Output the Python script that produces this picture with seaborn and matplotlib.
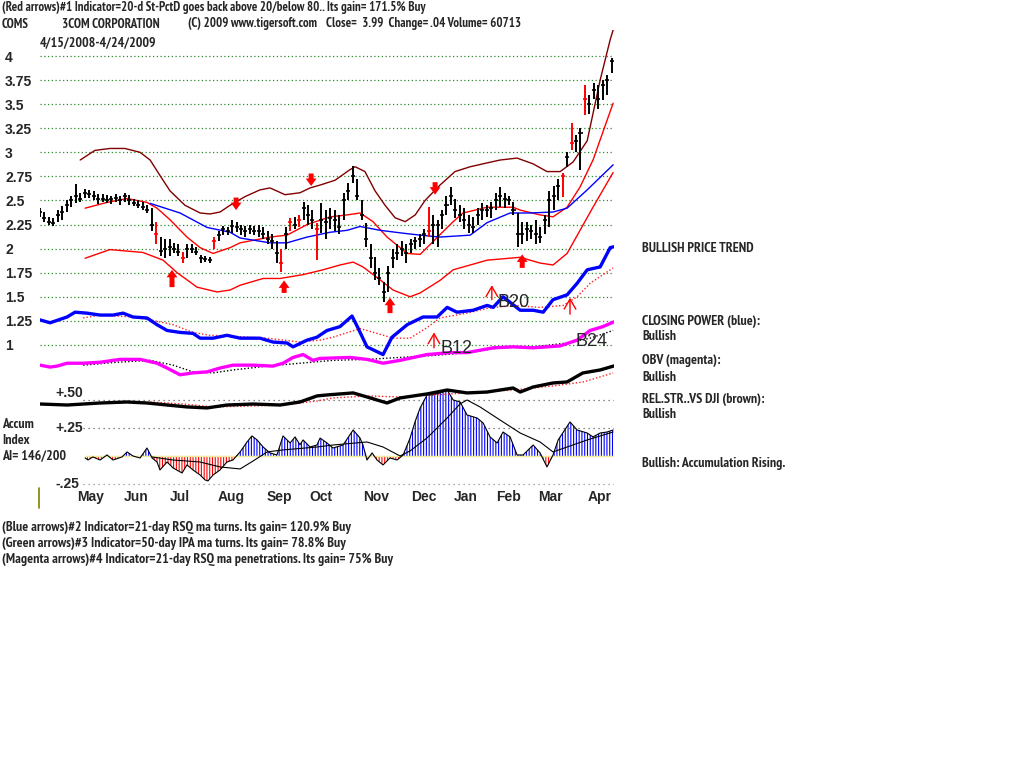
import os
import numpy as np
import matplotlib
matplotlib.use("Agg")
import matplotlib.pyplot as plt
from matplotlib.lines import Line2D
from matplotlib import font_manager as fm
import seaborn as sns

# ---------------- data ----------------
# price bars, one every two trading days (day index 0..256)
bar_low = [2.33,2.28,2.25,2.24,2.28,2.30,2.38,2.43,2.47,2.48,2.53,2.53,2.50,2.46,2.48,2.47,2.46,2.48,2.45,2.48,
           2.45,2.44,2.42,2.40,2.37,2.18,2.05,1.92,1.90,1.92,1.95,1.92,1.85,1.90,1.95,1.93,1.85,1.86,1.85,2.00,
           2.08,2.14,2.14,2.16,2.17,2.14,2.12,2.15,2.14,2.12,2.10,2.05,2.00,1.85,1.76,2.00,2.18,2.20,2.22,2.30,
           2.25,2.20,1.88,2.16,2.10,2.20,2.18,2.15,2.30,2.50,2.68,2.50,2.30,2.02,1.80,1.67,1.62,1.45,1.55,1.80,
           1.88,1.92,1.85,1.95,2.00,2.02,2.05,2.12,2.05,2.02,2.20,2.35,2.45,2.32,2.28,2.20,2.16,2.16,2.25,2.30,
           2.33,2.32,2.40,2.43,2.42,2.45,2.35,2.02,2.05,2.08,2.10,2.05,2.06,2.15,2.22,2.40,2.50,2.54,2.85,3.02,
           3.00,2.82,3.39,3.40,3.55,3.45,3.54,3.60,3.82]
bar_high = [2.42,2.38,2.33,2.32,2.40,2.44,2.50,2.55,2.67,2.58,2.62,2.61,2.60,2.57,2.57,2.56,2.55,2.57,2.55,2.58,
            2.56,2.52,2.50,2.48,2.45,2.42,2.28,2.12,2.10,2.10,2.06,2.05,1.97,2.05,2.05,2.02,1.93,1.92,1.91,2.12,
            2.18,2.24,2.22,2.30,2.28,2.25,2.23,2.25,2.24,2.25,2.22,2.18,2.15,2.08,2.00,2.22,2.32,2.33,2.35,2.48,
            2.45,2.40,2.27,2.47,2.40,2.42,2.40,2.35,2.58,2.68,2.86,2.72,2.50,2.27,2.05,1.91,1.80,1.65,1.82,2.00,
            2.05,2.08,2.05,2.10,2.12,2.15,2.20,2.43,2.35,2.30,2.40,2.55,2.64,2.52,2.45,2.42,2.35,2.33,2.42,2.47,
            2.45,2.48,2.58,2.64,2.58,2.55,2.48,2.37,2.28,2.28,2.25,2.30,2.22,2.35,2.60,2.65,2.72,2.79,3.00,3.30,
            3.18,3.25,3.70,3.60,3.72,3.70,3.75,3.80,3.98]
bar_close = [2.38,2.32,2.28,2.27,2.35,2.38,2.45,2.50,2.55,2.52,2.58,2.57,2.55,2.52,2.52,2.50,2.52,2.53,2.50,2.55,
             2.50,2.47,2.45,2.43,2.40,2.25,2.15,1.98,2.00,2.02,2.00,1.97,1.90,2.00,2.00,1.97,1.90,1.89,1.88,2.08,
             2.14,2.20,2.18,2.24,2.22,2.20,2.18,2.20,2.18,2.18,2.15,2.10,2.08,1.95,1.85,2.15,2.28,2.25,2.30,2.42,
             2.35,2.30,2.20,2.30,2.28,2.32,2.30,2.22,2.50,2.60,2.75,2.55,2.35,2.10,1.90,1.75,1.70,1.55,1.75,1.90,
             1.95,2.00,1.95,2.05,2.08,2.10,2.15,2.18,2.25,2.25,2.35,2.45,2.55,2.40,2.35,2.30,2.25,2.22,2.35,2.40,
             2.40,2.42,2.50,2.55,2.52,2.50,2.40,2.15,2.15,2.20,2.18,2.15,2.12,2.30,2.50,2.55,2.65,2.75,2.95,3.10,
             3.12,3.20,3.55,3.50,3.65,3.55,3.70,3.75,3.95]
red_bars = [26, 32, 39, 54, 56, 58, 62, 87, 117, 119, 122]

upper_day = [18,24.6,31.3,38,44.8,49.3,53.7,58.2,64.9,71.7,76.1,80.6,85.1,91.8,98.5,103,109.7,116.4,120.9,125.4,
             132.1,138.8,141.1,145.5,150,154.5,159,163.5,168,172.4,179.1,185.8,192.6,200.2,206,213.6,220.8,227,
             232.9,238.7,245,250.8,255.3,257]
upper_val = [2.92,3.02,3.04,3.04,3.00,2.92,2.76,2.60,2.45,2.37,2.36,2.38,2.45,2.54,2.61,2.63,2.56,2.58,2.63,2.66,
             2.71,2.82,2.85,2.80,2.60,2.45,2.32,2.28,2.35,2.50,2.66,2.80,2.85,2.89,2.92,2.94,2.88,2.80,
             2.80,2.90,3.12,3.75,4.17,4.30]

mid_day = [20.2,30,39,47.9,52.4,58.2,65.8,71.7,77.5,85.1,89.6,103,110.6,119.6,129.9,137.5,143.3,149.1,155.4,
           164.4,170.2,185,189.4,200.2,211.8,215,223.9,229.7,236,241.8,247.6,256.6]
mid_val = [2.42,2.48,2.52,2.48,2.42,2.30,2.12,2.01,1.95,2.01,2.06,2.12,2.14,2.25,2.33,2.35,2.37,2.28,2.12,
           1.95,1.94,2.28,2.37,2.43,2.43,2.40,2.35,2.33,2.43,2.64,2.92,3.51]

lower_day = [20.2,31.3,46.1,55.1,61.4,70.3,79.3,85.1,89.6,99.9,107.5,117.8,126.7,134.3,140.2,144.6,150.9,
             158.1,165.7,170.2,179.1,185,200.2,215,223.9,229.7,236,247.6,256.6]
lower_val = [1.90,1.99,1.96,1.88,1.75,1.60,1.55,1.57,1.62,1.69,1.69,1.73,1.78,1.83,1.86,1.81,1.70,
             1.57,1.50,1.54,1.67,1.78,1.88,1.91,1.85,1.83,1.95,2.43,2.79]

ma50_day = [49.3,62.7,74.8,85.1,89.6,103,110.6,119.6,129.9,137.5,143.3,152.3,162.6,170.2,179.1,192.6,200.2,
            210.5,219.4,229.7,236,245,256.6]
ma50_val = [2.47,2.37,2.22,2.17,2.11,2.06,2.06,2.12,2.17,2.19,2.23,2.19,2.16,2.14,2.12,2.14,2.27,
            2.37,2.37,2.38,2.42,2.61,2.87]

cp_day = [0,4.5,12.1,15.7,21,26.9,32.7,37.2,41.6,47.9,52.4,56.9,62.7,68.5,71.7,77.5,83.7,89.6,98.5,104.3,
          110.6,113.3,119.6,124,128.5,134.3,139.7,142.3,146.4,153.6,157.6,164.4,171.5,177.8,182.3,186.7,
          193.9,200.2,202.9,207.3,215,220.8,225.3,229.7,236,240.5,245,250.8,255.3,257]
cp_val = [1.26,1.23,1.29,1.34,1.33,1.31,1.31,1.33,1.29,1.28,1.21,1.15,1.13,1.12,1.07,1.07,1.10,1.07,1.07,1.03,
          1.02,0.98,1.05,1.08,1.15,1.19,1.30,1.18,0.98,0.90,1.08,1.21,1.29,1.29,1.39,1.34,
          1.36,1.41,1.39,1.50,1.36,1.36,1.34,1.47,1.52,1.64,1.78,1.81,2.01,2.02]
cpma_day = [19.3,26.9,41.6,49.3,59.6,68.5,76.1,86.4,101.7,116.4,125.4,131.2,143.3,150.9,158.1,165.7,173.3,
            179.1,191.2,200.2,211.8,223.9,234.2,240.5,246.3,256.6]
cpma_val = [1.28,1.31,1.29,1.26,1.21,1.13,1.10,1.09,1.07,1.03,1.05,1.08,1.17,1.12,1.07,1.07,1.18,
            1.28,1.33,1.38,1.41,1.39,1.41,1.50,1.64,1.80]

obv_day = [0,4.5,7.6,12.1,19.3,26.9,35.8,44.8,52.4,56.9,62.7,68.5,74.8,80.6,86.4,95.4,104.3,108.8,113.3,
           117.8,122.2,125.4,138.8,146.4,153.6,161.2,173.3,183.5,191.2,202.9,211.8,220.8,232.9,240.5,246.3,252,257]
obv_val = [0.79,0.77,0.78,0.81,0.81,0.82,0.85,0.85,0.81,0.76,0.69,0.71,0.72,0.76,0.79,0.79,0.78,0.81,0.87,
           0.90,0.84,0.86,0.87,0.85,0.81,0.84,0.90,0.92,0.92,0.97,0.98,0.97,0.99,1.05,1.15,1.19,1.24]
obvma_day = [19.3,34.5,49.3,59.6,68.5,77.5,86.4,101.7,116.4,131.2,146.4,161.2,176,191.2,206,220.8,236,246.3,256.6]
obvma_val = [0.79,0.82,0.84,0.79,0.72,0.71,0.74,0.78,0.81,0.84,0.85,0.87,0.89,0.92,0.97,0.98,1.02,1.07,1.15]

rs_day = [0,12.1,26.9,38.9,47.9,56.9,65.8,74.8,83.7,95.4,107.5,116.4,124,128.5,140.2,146.4,155.4,161.2,
          173.3,182.3,191.2,200.2,211.8,215,220.8,229.7,236,243,250.8,257]
rs_val = [0.464,0.455,0.473,0.482,0.473,0.455,0.438,0.429,0.455,0.464,0.455,0.482,0.536,0.545,0.563,0.527,
          0.473,0.518,0.554,0.589,0.563,0.571,0.607,0.571,0.616,0.652,0.661,0.741,0.768,0.804]
rsma_day = [49.3,64,77.5,94,108.8,124,131.2,146.4,161.2,176,191.2,211.8,229.7,243.2,256.6]
rsma_val = [0.482,0.464,0.438,0.446,0.455,0.491,0.518,0.536,0.527,0.545,0.563,0.589,0.625,0.661,0.741]

acc_day = [20.2,21.5,23.7,26.9,30,32.7,36.7,39,41.6,44.8,47.9,50.2,52.4,53.7,56.9,59.6,63.6,65.8,68.5,71.7,
           73.9,75.2,77.5,80.6,83.7,86.4,89.6,92.7,94.9,97.2,99.9,103,106.1,108.8,112,114.2,116.4,117.8,120.9,
           124,125.4,128.5,131.2,135.7,140.2,143.3,144.6,146.4,148.7,150.9,153.6,156.7,159.9,162.6,165.7,167.9,
           170.2,173.3,176,179.1,182.3,185,188.1,191.2,195.7,198.4,201.5,204.7,207.3,210.5,213.6,216.3,220.8,
           223.9,227,229.7,232,237.3,240.5,245,247.6,250.8,253.9,256.6]
acc_val = [-0.018,-0.036,-0.009,-0.036,0.009,-0.036,-0.009,0.036,0.0,-0.018,0.071,-0.018,-0.054,-0.125,-0.054,
           -0.107,-0.152,-0.080,-0.125,-0.170,-0.214,-0.223,-0.170,-0.125,-0.054,-0.036,0.036,0.125,0.179,0.143,
           0.080,0.027,0.009,0.179,0.116,0.170,0.100,0.143,0.080,0.098,0.160,0.116,0.071,0.098,0.232,0.160,
           0.098,-0.036,0.027,-0.036,-0.080,-0.018,-0.036,0.009,0.160,0.304,0.429,0.545,0.545,0.563,0.589,
           0.500,0.482,0.366,0.339,0.295,0.170,0.116,0.214,0.170,0.009,0.009,0.098,0.027,-0.098,0.009,0.143,
           0.304,0.232,0.205,0.170,0.205,0.214,0.232]
accma_day = [50.2,59.6,71.7,80.6,89.6,95.4,101.7,108.8,124,131.2,146.4,153.6,161.2,165.7,173.3,182.3,188,
             191.2,197,206,215,223.9,229.7,236,245,256.6]
accma_val = [-0.009,-0.036,-0.054,-0.098,-0.116,-0.045,0.036,0.054,0.080,0.098,0.125,0.080,0.0,0.045,0.161,
             0.339,0.464,0.500,0.438,0.321,0.205,0.125,0.036,0.080,0.143,0.214]

# signal arrows: (day, tail, tip)
thick_arrows = [(87.8, 2.53, 2.40), (121.4, 2.78, 2.65), (176.9, 2.69, 2.56),
                (59.1, 1.60, 1.78), (109.3, 1.54, 1.67), (156.7, 1.33, 1.49), (215.9, 1.80, 1.94)]
thin_arrows = [(202.3, 1.47, 1.62), (237.3, 1.32, 1.49), (176.4, 0.97, 1.13)]
signal_labels = ["B20", "B12", "B24"]
signal_day = [204.7, 179.1, 239.8]
signal_val = [1.44, 0.96, 1.04]

price_ticks = [4, 3.75, 3.5, 3.25, 3, 2.75, 2.5, 2.25, 2, 1.75, 1.5, 1.25, 1]
price_tick_labels = ["4", "3.75", "3.5", "3.25", "3", "2.75", "2.5", "2.25", "2", "1.75", "1.5", "1.25", "1"]
month_labels = ["May", "Jun", "Jul", "Aug", "Sep", "Oct", "Nov", "Dec", "Jan", "Feb", "Mar", "Apr"]
month_day = [22.8, 43, 62.7, 85.5, 107, 126, 150.5, 172, 190.8, 209.6, 228.4, 250.8]

# ---------------- style ----------------
sns.set_theme(style="white")
plt.rcParams["font.family"] = ["Liberation Sans", "DejaVu Sans"]
plt.rcParams["hatch.linewidth"] = 0.8


def pick_narrow_bold():
    prefs = []
    for f in fm.fontManager.ttflist:
        fn = os.path.basename(f.fname).lower()
        nm = f.name.lower()
        key = fn + " " + nm
        if "italic" in key or "oblique" in key:
            continue
        if "bold" not in fn and f.weight not in ("bold", 700):
            continue
        if "extrabold" in fn or "semibold" in fn or "black" in fn:
            continue
        if "narrow" in key:
            rank = 0
        elif "semicondensed" in key or "semi condensed" in key:
            rank = 3
        elif "extracondensed" in key or "extra condensed" in key or "ultracondensed" in key:
            rank = 2
        elif "condensed" in key or "cond" in fn:
            rank = 1
        else:
            continue
        prefs.append((rank, f.fname))
    if prefs:
        prefs.sort()
        return fm.FontProperties(fname=prefs[0][1])
    return fm.FontProperties(family=["Liberation Sans", "DejaVu Sans"], weight="bold")


FP = pick_narrow_bold()

W, H = 1024, 768
fig = plt.figure(figsize=(W / 100, H / 100), dpi=100)
fig.patch.set_facecolor("white")
renderer = fig.canvas.get_renderer()


def fx(px):
    return px / W


def fy(py):
    return 1 - py / H


def t(px, py, s, target_w, base=9.5, lo=9.3, hi=10.0):
    fp = FP.copy()
    fp.set_size(base)
    txt = fig.text(fx(px), fy(py), s, fontproperties=fp, ha="left", va="center")
    w = txt.get_window_extent(renderer).width
    size = min(hi, max(lo, base * target_w / w))
    fp2 = FP.copy()
    fp2.set_size(size)
    txt.set_fontproperties(fp2)
    return txt


def right_px(txt):
    return txt.get_window_extent(renderer).x1


# bottom (accumulation) panel
axb = fig.add_axes([fx(40), fy(489), fx(574), (489 - 360) / H])
axb.patch.set_alpha(0)
axb.set_xlim(0, 257)
axb.set_ylim(-0.295, 0.857)
for s in axb.spines.values():
    s.set_visible(False)
axb.set_yticks([])
axb.set_xticks(month_day)
axb.set_xticklabels(month_labels, fontsize=10, fontweight="bold")
axb.tick_params(axis="x", length=0, pad=1)

x0frac = 43 / 574
for lvl, col in [(0.5, "#606060"), (0.25, "#606060"), (-0.25, "#909090")]:
    axb.axhline(lvl, xmin=x0frac, xmax=1, color=col, lw=0.9, ls=(0, (1, 3)))
axb.axhline(0, xmin=45 / 574, xmax=1, color="#f2ec9a", lw=1)

acc_x = np.array(acc_day)
acc_y = np.array(acc_val)
axb.fill_between(acc_x, 0, acc_y, where=acc_y >= 0, interpolate=True, facecolor="none",
                 edgecolor="#0000ff", hatch="||||||", lw=0)
axb.fill_between(acc_x, 0, acc_y, where=acc_y <= 0, interpolate=True, facecolor="none",
                 edgecolor="#ff0000", hatch="||||||", lw=0)
sns.lineplot(x=acc_day, y=acc_val, ax=axb, color="black", lw=0.8, sort=False, estimator=None)
sns.lineplot(x=accma_day, y=accma_val, ax=axb, color="black", lw=0.8, sort=False, estimator=None)
sns.lineplot(x=rsma_day, y=rsma_val, ax=axb, color="#ff2020", lw=1, ls=(0, (1, 1.5)), sort=False, estimator=None)
sns.lineplot(x=rs_day, y=rs_val, ax=axb, color="black", lw=2.4, sort=False, estimator=None)
axb.set_xlabel("")
axb.set_ylabel("")
for lvl, lab in [(0.5, "+.50"), (0.25, "+.25"), (-0.25, "-.25")]:
    axb.text(15 / 574, lvl, lab, transform=axb.get_yaxis_transform(), ha="left",
             va="bottom" if lvl == 0.5 else "center", fontsize=10, fontweight="bold")

# top (price) panel
ax = fig.add_axes([fx(40), fy(390), fx(574), 360 / H])
ax.patch.set_alpha(0)
ax.set_xlim(0, 257)
ax.set_ylim(0.532, 4.27)
for s in ax.spines.values():
    s.set_visible(False)
ax.set_xticks([])
ax.set_yticks(price_ticks)
ax.set_yticklabels(price_tick_labels, fontsize=10, fontweight="bold")
for lab in ax.get_yticklabels():
    lab.set_horizontalalignment("left")
ax.tick_params(axis="y", length=0, pad=25.2)
ax.grid(axis="y", color="#2e8b2e", lw=0.9, ls=(0, (1, 2)))
ax.grid(axis="x", visible=False)

sns.lineplot(x=upper_day, y=upper_val, ax=ax, color="#800000", lw=1, sort=False, estimator=None)
sns.lineplot(x=mid_day, y=mid_val, ax=ax, color="#ff0000", lw=1, sort=False, estimator=None)
sns.lineplot(x=lower_day, y=lower_val, ax=ax, color="#ff0000", lw=1, sort=False, estimator=None)
sns.lineplot(x=ma50_day, y=ma50_val, ax=ax, color="#0000ff", lw=1, sort=False, estimator=None)

bar_days = np.arange(0, 2 * len(bar_close), 2)
cols = ["#ff0000" if i in red_bars else "black" for i in range(len(bar_close))]
ax.vlines(bar_days, bar_low, bar_high, colors=cols, lw=1.4)
ax.hlines(bar_close, bar_days - 0.9, bar_days + 0.9, colors=cols, lw=1.2)

sns.lineplot(x=cpma_day, y=cpma_val, ax=ax, color="#ff2020", lw=1, ls=(0, (1, 1.5)), sort=False, estimator=None)
sns.lineplot(x=cp_day, y=cp_val, ax=ax, color="#0000ff", lw=2.4, sort=False, estimator=None)
sns.lineplot(x=obvma_day, y=obvma_val, ax=ax, color="black", lw=1, ls=(0, (1, 1.5)), sort=False, estimator=None)
sns.lineplot(x=obv_day, y=obv_val, ax=ax, color="#ff00ff", lw=2.4, sort=False, estimator=None)
ax.set_xlabel("")
ax.set_ylabel("")

for d, tail, tip in thick_arrows:
    ax.annotate("", xy=(d, tip), xytext=(d, tail),
                arrowprops=dict(arrowstyle="simple,head_width=0.65,head_length=0.45,tail_width=0.3",
                                color="#ff0000", lw=0, shrinkA=0, shrinkB=0), annotation_clip=False)
for d, tail, tip in thin_arrows:
    ax.annotate("", xy=(d, tip), xytext=(d, tail),
                arrowprops=dict(arrowstyle="->,head_width=0.35,head_length=0.6", color="#ff0000", lw=1,
                                shrinkA=0, shrinkB=0))
for lab, d, v in zip(signal_labels, signal_day, signal_val):
    ax.text(d, v, lab, fontsize=13, family=["Liberation Sans", "DejaVu Sans"], ha="left", va="center")

# ---------------- texts ----------------
t(2, 8, "(Red arrows)#1 Indicator=20-d St-PctD goes back above 20/below 80.. Its gain= 171.5% Buy", 393)
prev = t(2, 24, "COMS", 25)
header_parts = [(62, "3COM CORPORATION", 96), (188, "(C) 2009 www.tigersoft.com", 114),
                (311, "Close=  3.99  Change= .04 Volume= 60713", 190)]
for px, s, w in header_parts:
    start = max(px, right_px(prev) + 9)
    prev = t(start, 24, s, w)
t(40, 43, "4/15/2008-4/24/2009", 127)
t(2, 424, "Accum", 36)
t(2, 440, "Index", 32)
t(2, 456, "AI= 146/200", 70)

t(642, 249, "BULLISH PRICE TREND", 139)
t(642, 321, "CLOSING POWER (blue):", 145)
t(642, 337, "Bullish", 38)
t(642, 361, "OBV (magenta):", 92)
t(642, 377, "Bullish", 38)
t(642, 399, "REL.STR..VS DJI (brown):", 150)
t(642, 414, "Bullish", 38)
t(642, 463, "Bullish: Accumulation Rising.", 164)

t(2, 527, "(Blue arrows)#2 Indicator=21-day RSQ ma turns. Its gain= 120.9% Buy", 398)
t(2, 544, "(Green arrows)#3 Indicator=50-day IPA ma turns. Its gain= 78.8% Buy", 395)
t(2, 560, "(Magenta arrows)#4 Indicator=21-day RSQ ma penetrations. Its gain= 75% Buy", 447)

fig.add_artist(Line2D([fx(39), fx(39)], [fy(488), fy(508)], color="#808000", lw=1.2))

fig.savefig("out.png", dpi=100, facecolor="white")
